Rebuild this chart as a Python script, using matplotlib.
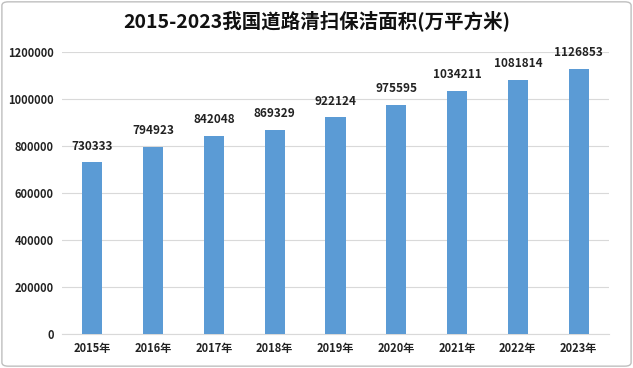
import matplotlib.pyplot as plt
from matplotlib.patches import FancyBboxPatch

plt.rcParams['font.family'] = ['Noto Sans CJK SC', 'DejaVu Sans']

# dados
years = ['2015年', '2016年', '2017年', '2018年', '2019年', '2020年', '2021年', '2022年', '2023年']
area = [730333, 794923, 842048, 869329, 922124, 975595, 1034211, 1081814, 1126853]
y_ticks = [0, 200000, 400000, 600000, 800000, 1000000, 1200000]

fig = plt.figure(figsize=(6.33, 3.68), dpi=100)
ax = fig.add_axes([62 / 633, 34 / 368, 547 / 633, 282 / 368])

x = range(len(years))
ax.bar(x, area, width=0.33, color='#5B9BD5', zorder=3)
for i, v in zip(x, area):
    ax.annotate(str(v), (i, v), xytext=(0, 7), textcoords='offset points',
                ha='center', va='bottom', fontsize=8.5, fontweight='bold', color='#222222')

ax.set_xlim(-0.5, len(years) - 0.5)
ax.set_ylim(0, 1200000)
ax.set_yticks(y_ticks)
ax.set_yticklabels([str(t) for t in y_ticks], fontsize=8, fontweight='bold', color='#222222')
ax.set_xticks(list(x))
ax.set_xticklabels(years, fontsize=8, fontweight='bold', color='#222222')
ax.tick_params(length=0, pad=6)
ax.grid(axis='y', color='#D9D9D9', linewidth=0.8, zorder=0)
for s in ['left', 'right', 'top']:
    ax.spines[s].set_visible(False)
ax.spines['bottom'].set_color('#D9D9D9')

fig.text(0.5, 0.945, '2015-2023我国道路清扫保洁面积(万平方米)', ha='center', va='center',
         fontsize=14, fontweight='bold', color='#111111')

# moldura
border = FancyBboxPatch((0.003, 0.005), 0.994, 0.99, boxstyle='round,pad=0,rounding_size=0.01',
                        transform=fig.transFigure, fill=False, edgecolor='#BFBFBF', linewidth=1)
fig.patches.append(border)

fig.savefig('out.png', dpi=100)
